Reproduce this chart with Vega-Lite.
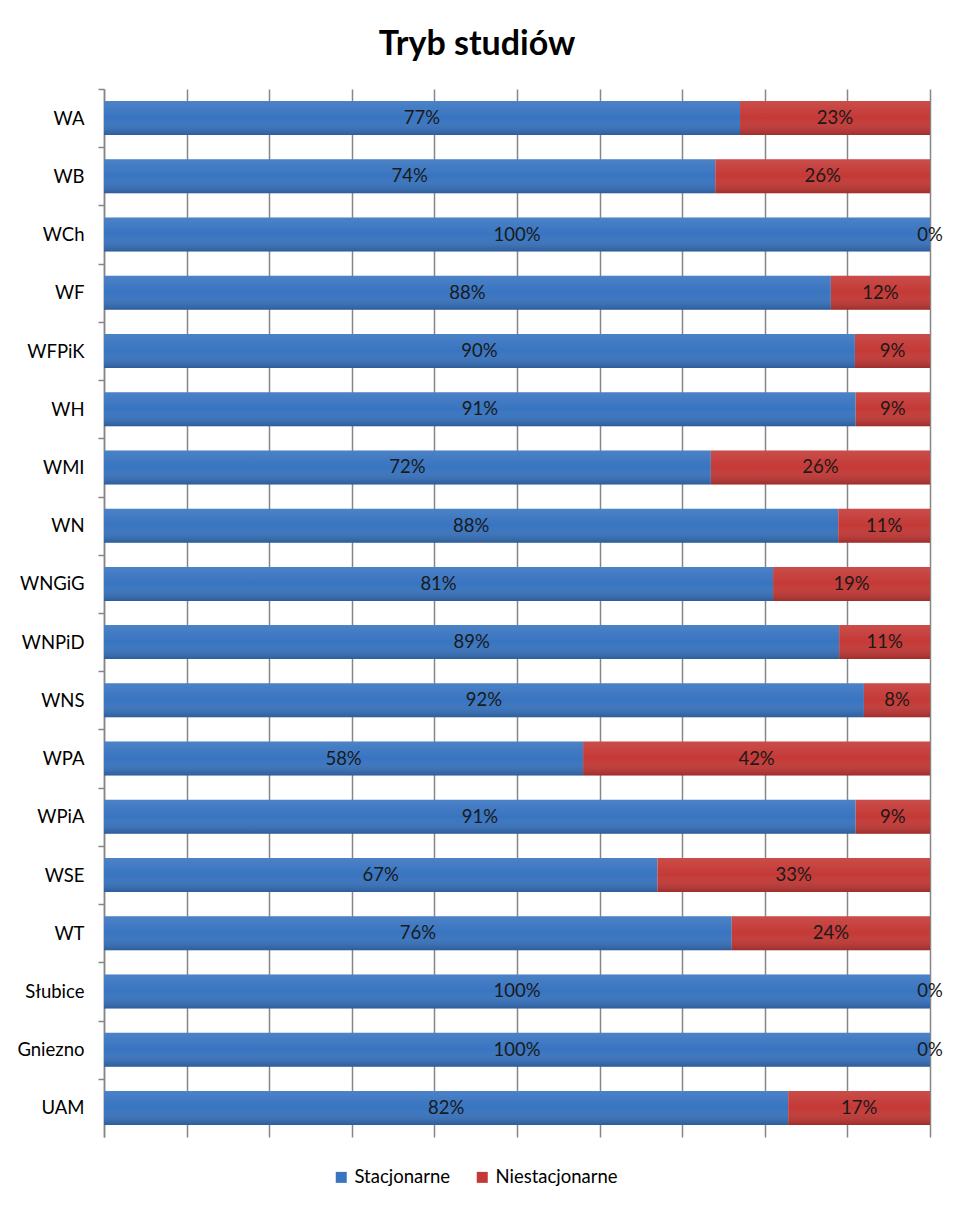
{
  "$schema": "https://vega.github.io/schema/vega-lite/v6.json",
  "width": 826,
  "height": 1048,
  "autosize": {"type": "none"},
  "padding": {"left": 104, "top": 89, "right": 24, "bottom": 74},
  "background": "white",
  "title": {"text": "Tryb studiów", "font": "Lato", "fontSize": 34, "fontWeight": "bold", "color": "#000000", "anchor": "middle", "dx": -40, "offset": 26},
  "config": {"view": {"stroke": null}},
  "data": {"values": [
    {"wydzial": "WA", "tryb": "Stacjonarne", "udzial": 0.77},
    {"wydzial": "WA", "tryb": "Niestacjonarne", "udzial": 0.23},
    {"wydzial": "WB", "tryb": "Stacjonarne", "udzial": 0.74},
    {"wydzial": "WB", "tryb": "Niestacjonarne", "udzial": 0.26},
    {"wydzial": "WCh", "tryb": "Stacjonarne", "udzial": 1.0},
    {"wydzial": "WCh", "tryb": "Niestacjonarne", "udzial": 0.0},
    {"wydzial": "WF", "tryb": "Stacjonarne", "udzial": 0.88},
    {"wydzial": "WF", "tryb": "Niestacjonarne", "udzial": 0.12},
    {"wydzial": "WFPiK", "tryb": "Stacjonarne", "udzial": 0.90},
    {"wydzial": "WFPiK", "tryb": "Niestacjonarne", "udzial": 0.09},
    {"wydzial": "WH", "tryb": "Stacjonarne", "udzial": 0.91},
    {"wydzial": "WH", "tryb": "Niestacjonarne", "udzial": 0.09},
    {"wydzial": "WMI", "tryb": "Stacjonarne", "udzial": 0.72},
    {"wydzial": "WMI", "tryb": "Niestacjonarne", "udzial": 0.26},
    {"wydzial": "WN", "tryb": "Stacjonarne", "udzial": 0.88},
    {"wydzial": "WN", "tryb": "Niestacjonarne", "udzial": 0.11},
    {"wydzial": "WNGiG", "tryb": "Stacjonarne", "udzial": 0.81},
    {"wydzial": "WNGiG", "tryb": "Niestacjonarne", "udzial": 0.19},
    {"wydzial": "WNPiD", "tryb": "Stacjonarne", "udzial": 0.89},
    {"wydzial": "WNPiD", "tryb": "Niestacjonarne", "udzial": 0.11},
    {"wydzial": "WNS", "tryb": "Stacjonarne", "udzial": 0.92},
    {"wydzial": "WNS", "tryb": "Niestacjonarne", "udzial": 0.08},
    {"wydzial": "WPA", "tryb": "Stacjonarne", "udzial": 0.58},
    {"wydzial": "WPA", "tryb": "Niestacjonarne", "udzial": 0.42},
    {"wydzial": "WPiA", "tryb": "Stacjonarne", "udzial": 0.91},
    {"wydzial": "WPiA", "tryb": "Niestacjonarne", "udzial": 0.09},
    {"wydzial": "WSE", "tryb": "Stacjonarne", "udzial": 0.67},
    {"wydzial": "WSE", "tryb": "Niestacjonarne", "udzial": 0.33},
    {"wydzial": "WT", "tryb": "Stacjonarne", "udzial": 0.76},
    {"wydzial": "WT", "tryb": "Niestacjonarne", "udzial": 0.24},
    {"wydzial": "Słubice", "tryb": "Stacjonarne", "udzial": 1.0},
    {"wydzial": "Słubice", "tryb": "Niestacjonarne", "udzial": 0.0},
    {"wydzial": "Gniezno", "tryb": "Stacjonarne", "udzial": 1.0},
    {"wydzial": "Gniezno", "tryb": "Niestacjonarne", "udzial": 0.0},
    {"wydzial": "UAM", "tryb": "Stacjonarne", "udzial": 0.82},
    {"wydzial": "UAM", "tryb": "Niestacjonarne", "udzial": 0.17}
  ]},
  "encoding": {
    "y": {
      "field": "wydzial", "type": "nominal", "sort": null, "title": null,
      "scale": {"paddingInner": 0.416, "paddingOuter": 0.208},
      "axis": {
        "domainColor": "#868686", "domainWidth": 1.5,
        "tickColor": "#868686", "tickWidth": 1.5, "tickSize": 6,
        "tickOffset": -29.11, "labelOffset": 29.11,
        "labelFont": "Lato", "labelFontSize": 18.5, "labelColor": "#000000",
        "labelPadding": 14, "labelLimit": 200, "grid": false
      }
    },
    "x": {
      "field": "udzial", "type": "quantitative", "stack": "normalize", "title": null,
      "scale": {"domain": [0, 1], "nice": false},
      "axis": {
        "values": [0, 0.1, 0.2, 0.3, 0.4, 0.5, 0.6, 0.7, 0.8, 0.9, 1.0],
        "grid": true, "gridColor": "#868686", "gridWidth": 1.5,
        "labels": false, "ticks": false, "domain": false
      }
    },
    "order": {"field": "tryb", "sort": "descending"}
  },
  "layer": [
    {
      "mark": {"type": "bar"},
      "encoding": {
        "color": {
          "field": "tryb", "type": "nominal",
          "scale": {"domain": ["Stacjonarne", "Niestacjonarne"], "range": ["#3874c0", "#c43936"]},
          "legend": {
            "title": null, "orient": "none", "legendX": 228, "legendY": 1079,
            "direction": "horizontal", "symbolType": "square", "symbolSize": 121,
            "symbolStrokeWidth": 0, "labelFont": "Lato", "labelFontSize": 18.5,
            "labelColor": "#000000", "labelOffset": 4, "columnPadding": 22
          }
        }
      }
    },
    {
      "mark": {
        "type": "bar",
        "fill": {
          "gradient": "linear", "x1": 0, "y1": 0, "x2": 0, "y2": 1,
          "stops": [
            {"offset": 0, "color": "rgba(255,255,255,0.10)"},
            {"offset": 0.5, "color": "rgba(255,255,255,0.0)"},
            {"offset": 1, "color": "rgba(0,0,0,0.20)"}
          ]
        }
      },
      "encoding": {"detail": {"field": "tryb", "type": "nominal"}}
    },
    {
      "mark": {"type": "text", "font": "Lato", "fontSize": 18.5, "color": "#1a1a1a", "align": "center", "baseline": "middle"},
      "encoding": {
        "x": {"field": "udzial", "type": "quantitative", "stack": "normalize", "bandPosition": 0.5},
        "detail": {"field": "tryb", "type": "nominal"},
        "text": {"field": "udzial", "type": "quantitative", "format": ".0%"}
      }
    }
  ]
}
